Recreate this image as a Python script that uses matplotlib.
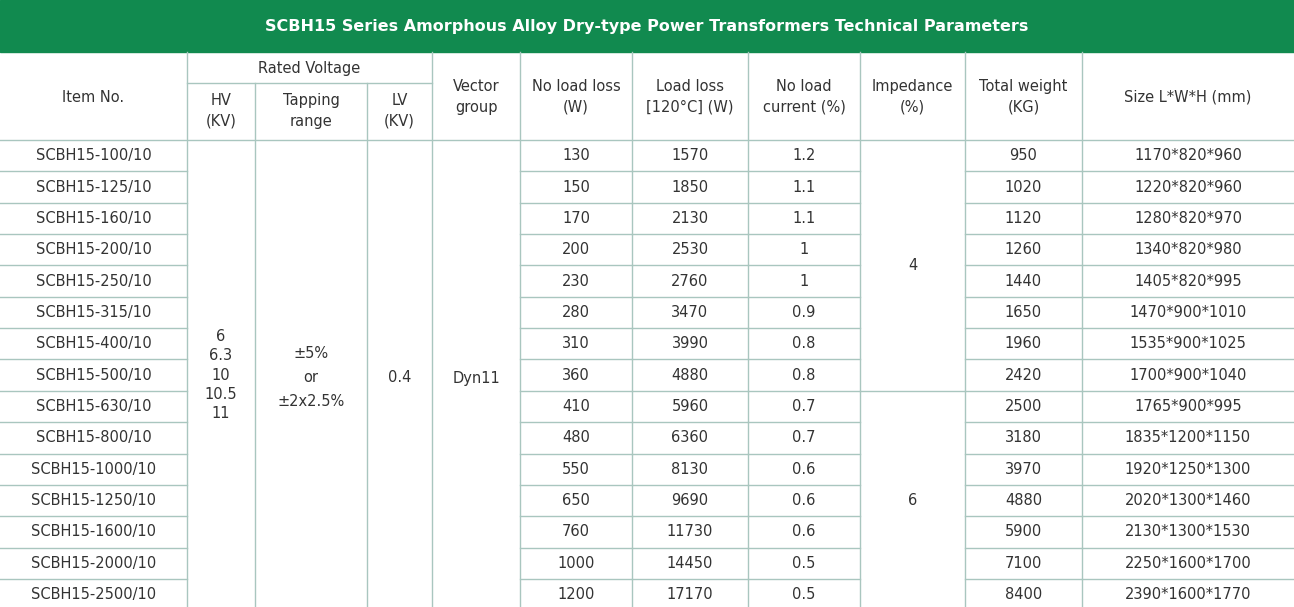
import matplotlib
matplotlib.use("Agg")
import matplotlib.pyplot as plt

title = "SCBH15 Series Amorphous Alloy Dry-type Power Transformers Technical Parameters"
items = ["SCBH15-100/10", "SCBH15-125/10", "SCBH15-160/10", "SCBH15-200/10", "SCBH15-250/10",
         "SCBH15-315/10", "SCBH15-400/10", "SCBH15-500/10", "SCBH15-630/10", "SCBH15-800/10",
         "SCBH15-1000/10", "SCBH15-1250/10", "SCBH15-1600/10", "SCBH15-2000/10", "SCBH15-2500/10"]
no_load_loss = [130, 150, 170, 200, 230, 280, 310, 360, 410, 480, 550, 650, 760, 1000, 1200]
load_loss = [1570, 1850, 2130, 2530, 2760, 3470, 3990, 4880, 5960, 6360, 8130, 9690, 11730, 14450, 17170]
no_load_current = ["1.2", "1.1", "1.1", "1", "1", "0.9", "0.8", "0.8", "0.7", "0.7", "0.6", "0.6", "0.6", "0.5", "0.5"]
impedance = [("4", 0, 8), ("6", 8, 15)]
weight = [950, 1020, 1120, 1260, 1440, 1650, 1960, 2420, 2500, 3180, 3970, 4880, 5900, 7100, 8400]
size = ["1170*820*960", "1220*820*960", "1280*820*970", "1340*820*980", "1405*820*995",
        "1470*900*1010", "1535*900*1025", "1700*900*1040", "1765*900*995", "1835*1200*1150",
        "1920*1250*1300", "2020*1300*1460", "2130*1300*1530", "2250*1600*1700", "2390*1600*1770"]
hv = "6\n6.3\n10\n10.5\n11"
tapping = "±5%\nor\n±2x2.5%"
lv = "0.4"
vector = "Dyn11"

green = "#118a4f"
line = "#a9c6bf"
txt = "#333333"

cols = [0, 187, 255, 367, 432, 520, 632, 748, 860, 965, 1082, 1294]
top, sub, hdr = 52, 83, 140
rh = 31.35

fig = plt.figure(figsize=(12.94, 6.07), dpi=100)
ax = fig.add_axes([0, 0, 1, 1])
ax.set_xlim(0, 1294)
ax.set_ylim(607, 0)
ax.axis("off")

ax.add_patch(plt.Rectangle((0, 0), 1294, top, color=green))
ax.text(647, 26, title, color="white", ha="center", va="center", fontsize=11.5, fontweight="bold")

fs = 10.5
def t(x, y, s, ls=1.45, **kw):
    ax.text(x, y, s, ha="center", va="center", fontsize=fs, color=txt, linespacing=ls, **kw)

def cx(i):
    return (cols[i] + cols[i + 1]) / 2

def ry(r):
    return hdr + rh * r

# header
t(cx(0), 97, "Item No.")
t((cols[1] + cols[4]) / 2, 68, "Rated Voltage")
t(cx(1), 111, "HV\n(KV)")
t(cx(2), 111, "Tapping\nrange")
t(cx(3), 111, "LV\n(KV)")
for i, s in zip(range(4, 11), ["Vector\ngroup", "No load loss\n(W)", "Load loss\n[120°C] (W)",
                              "No load\ncurrent (%)", "Impedance\n(%)", "Total weight\n(KG)", "Size L*W*H (mm)"]):
    t(cx(i), 97, s)

# grid lines
n = len(items)
ax.plot([cols[1], cols[4]], [sub, sub], color=line, lw=1)
for x in cols[1:-1]:
    y0 = sub if x in (cols[2], cols[3]) else top
    ax.plot([x, x], [y0, 607], color=line, lw=1)
ax.plot([0, 1294], [hdr, hdr], color=line, lw=1)
merged = [1, 2, 3, 4]
for r in range(1, n):
    y = ry(r)
    for i in range(len(cols) - 1):
        if i in merged:
            continue
        if i == 8 and r != 8:
            continue
        ax.plot([cols[i], cols[i + 1]], [y, y], color=line, lw=1)

# body
for r in range(n):
    y = ry(r) + rh / 2
    t(cx(0), y, items[r])
    t(cx(5), y, str(no_load_loss[r]))
    t(cx(6), y, str(load_loss[r]))
    t(cx(7), y, no_load_current[r])
    t(cx(9), y, str(weight[r]))
    t(cx(10), y, size[r])
for s, a, b in impedance:
    t(cx(8), (ry(a) + ry(b)) / 2, s)
mid = ry(7.5)
t(cx(1), 375, hv, ls=1.35)
t(cx(2), 378, tapping, ls=1.75)
t(cx(3), 378, lv)
t(cx(4), 378, vector)

fig.savefig("out.png", dpi=100)
